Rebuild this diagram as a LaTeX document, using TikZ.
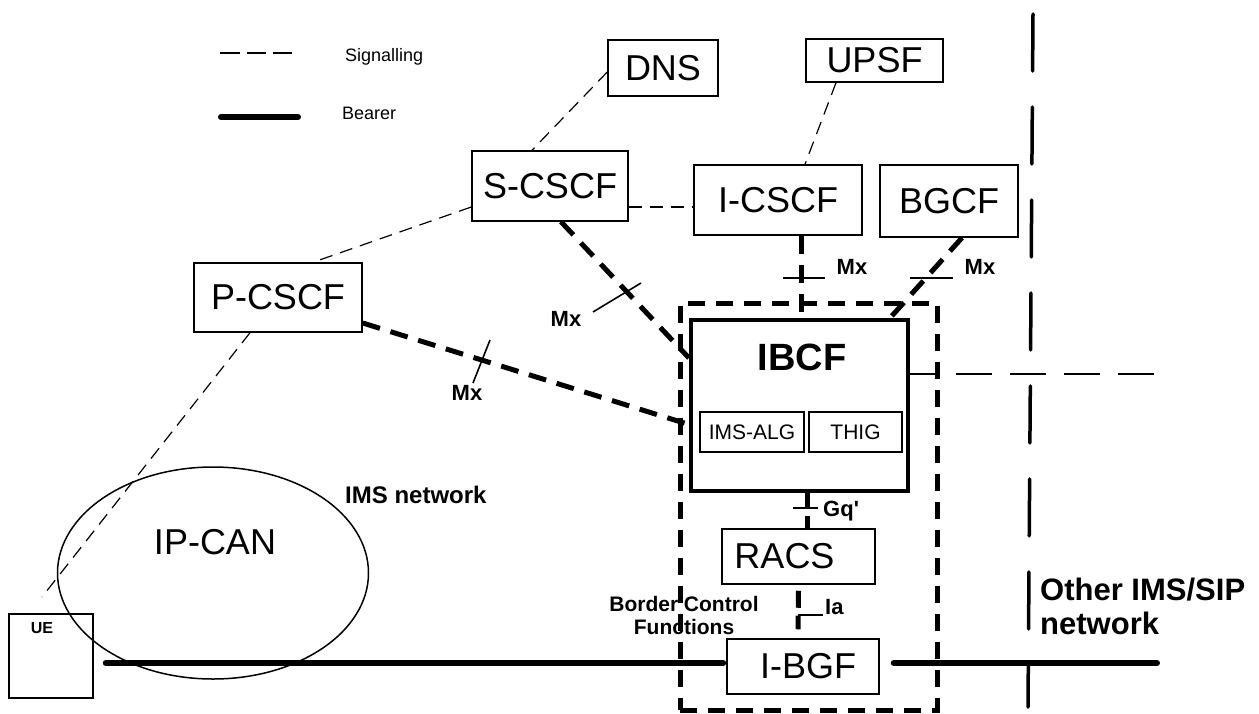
\documentclass[tikz,border=0pt]{standalone}
\usepackage{fontspec}
\setmainfont{Liberation Sans}
\newfontfamily\plainsans{Liberation Sans}
\usetikzlibrary{shapes.geometric}
\begin{document}
\begin{tikzpicture}[x=1pt,y=-1pt,
  box/.style={draw, line width=1.5pt, inner sep=0pt, fill=white, font=\fontsize{36}{40}\selectfont},
  smallbox/.style={draw, line width=1.2pt, inner sep=0pt, font=\fontsize{21}{24}\selectfont},
  sig/.style={line width=1.2pt, dash pattern=on 13pt off 8pt},
  thk/.style={line width=5pt, dash pattern=on 18pt off 11pt},
  tk/.style={line width=1.6pt},
  mx/.style={font=\plainsans\bfseries\fontsize{22}{24}\selectfont, inner sep=0pt},
  lbl/.style={inner sep=0pt},
]
\useasboundingbox (0,0) rectangle (1259,713);

% legend
\draw[line width=1.5pt, dash pattern=on 19.5pt off 7pt] (220,53) -- (292,53);
\node[lbl, anchor=west, font=\fontsize{18}{20}\selectfont] (lsig) at (345,57) {Signalling};
\draw[line width=6pt, line cap=round] (221,117) -- (298,117);
\node[lbl, anchor=west, font=\fontsize{18}{20}\selectfont] (lbear) at (342,113) {Bearer};

% boundary lines
\draw[line width=3.5pt, line cap=round, dash pattern=on 57pt off 36pt] (1033,14) -- (1028,707);
\draw[line width=1.5pt, dash pattern=on 36pt off 18pt] (902,374) -- (1161,374);

% IP-CAN
\node[draw, ellipse, line width=1.5pt, minimum width=311pt, minimum height=212pt, inner sep=0pt] (ipcan) at (213,573) {};
\node[lbl, font=\fontsize{36}{40}\selectfont] (ipcanl) at (215,542) {IP-CAN};

% boxes
\node[box, minimum width=110pt, minimum height=56pt] (dns) at (663,68) {DNS};
\node[box, minimum width=137pt, minimum height=43pt] (upsf) at (874.5,60.5) {UPSF};
\node[box, minimum width=156pt, minimum height=70pt] (scscf) at (550,186) {S-CSCF};
\node[box, minimum width=168pt, minimum height=70pt] (icscf) at (778,200) {I-CSCF};
\node[box, minimum width=138pt, minimum height=72pt] (bgcf) at (949,201) {BGCF};
\node[box, minimum width=168pt, minimum height=69pt] (pcscf) at (278,297.5) {P-CSCF};

\node[draw, line width=5pt, dash pattern=on 17pt off 11pt, minimum width=257pt, minimum height=407pt, inner sep=0pt] (bcf) at (808.5,506.5) {};
\node[draw, line width=4pt, minimum width=217pt, minimum height=171pt, inner sep=0pt, fill=white] (ibcf) at (799.5,405.5) {};
\node[lbl, font=\bfseries\fontsize{38}{42}\selectfont] (ibcfl) at (802,357) {IBCF};
\node[smallbox, minimum width=104pt, minimum height=40pt] (imsalg) at (752,432) {IMS-ALG};
\node[smallbox, minimum width=93pt, minimum height=40pt] (thig) at (855.5,432) {THIG};

\node[box, minimum width=153pt, minimum height=55pt] (racs) at (798.5,556.5) {RACS\hspace*{28pt}};
\node[box, minimum width=152pt, minimum height=55pt] (ibgf) at (803,666.5) {\hspace*{10pt}I-BGF};

\node[draw, line width=1.5pt, minimum width=84pt, minimum height=84pt, inner sep=0pt] (ue) at (51,656) {};
\node[lbl, font=\bfseries\fontsize{16}{18}\selectfont] (uel) at (42,628) {UE};

% texts
\node[lbl, anchor=west, font=\bfseries\fontsize{24}{26}\selectfont] (imsnet) at (345,495) {IMS network};
\node[lbl, align=center, font=\bfseries\fontsize{21}{23}\selectfont] (bcfl) at (684,615) {Border Control\\Functions};
\node[lbl, anchor=west, align=left, font=\bfseries\fontsize{31}{34}\selectfont] (other) at (1040,606) {Other IMS/SIP\\network};

% signalling connectors
\coordinate (ueend) at (42,597);
\draw[sig] ([yshift=-4pt]dns.west) -- ([xshift=-18pt]scscf.north);
\draw[sig] ([xshift=-38.5pt]upsf.south) -- ([xshift=27pt]icscf.north);
\draw[sig] ([yshift=-21pt]scscf.east) -- ([yshift=-7pt]icscf.west);
\draw[sig] ([yshift=-21pt]scscf.west) -- ([xshift=35pt]pcscf.north);
\draw[sig] ([xshift=-28pt]pcscf.south) -- (ueend);

% Mx connectors
\draw[thk] ([xshift=11pt]scscf.south) -- ([yshift=47.5pt]ibcf.west);
\draw[thk] ([yshift=-25.5pt]pcscf.east) -- ([yshift=-19pt]ibcf.west);
\draw[thk] ([xshift=23pt]icscf.south) -- ([xshift=1.5pt]ibcf.north);
\draw[thk] ([xshift=13pt]bgcf.south) -- ([xshift=90.5pt]ibcf.north);
\draw[line width=5pt, dash pattern=on 15pt off 8pt] ([xshift=7.5pt]ibcf.south) -- ([xshift=8.5pt]racs.north);
\draw[line width=5pt, dash pattern=on 17pt off 8pt] ([yshift=-6pt]racs.south) -- ([xshift=-5pt,yshift=9pt]ibgf.north);

% bearer
\coordinate (bearend) at (1157,663);
\draw[line width=6pt, line cap=round] ([xshift=12pt,yshift=-7pt]ue.east) -- ([xshift=-3pt,yshift=3.5pt]ibgf.west);
\draw[line width=6pt, line cap=round] ([xshift=14pt,yshift=3.5pt]ibgf.east) -- (bearend);

% ticks and labels
\draw[tk] (593,312) -- (641,283);
\node[mx] (mx1) at (566,319) {Mx};
\draw[tk] (473,383) -- (490,340);
\node[mx] (mx2) at (467,393) {Mx};
\draw[tk] (783,278) -- (825,278);
\node[mx] (mx3) at (852,267) {Mx};
\draw[tk] (910,278) -- (953,278);
\node[mx] (mx4) at (980,267) {Mx};
\draw[tk] (793,508) -- (818,508);
\node[mx, anchor=west] (gq) at (823,511) {Gq'};
\draw[tk] (798,615) -- (823,615);
\node[mx, anchor=west] (ia) at (825,607) {Ia};
\end{tikzpicture}
\end{document}
